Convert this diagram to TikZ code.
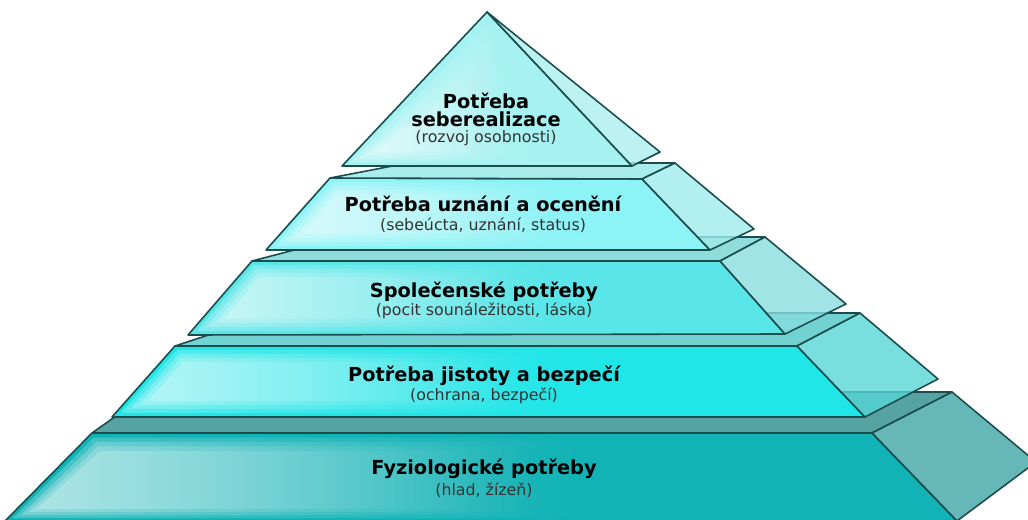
\documentclass[tikz,border=0pt]{standalone}
\usepackage{fontspec}
\setmainfont{DejaVu Sans}
\usetikzlibrary{calc,fadings}
\definecolor{edgecol}{HTML}{1B4D4D}
\definecolor{subgray}{HTML}{333333}
\definecolor{tfront}{HTML}{A6F2F2}
\definecolor{tside}{HTML}{ACEFEF}
\definecolor{utop}{HTML}{A8ECEC}
\definecolor{ufront}{HTML}{8CF3F6}
\definecolor{uside}{HTML}{9FEBEC}
\definecolor{stop}{HTML}{8FDCDC}
\definecolor{sfront}{HTML}{5AE6E8}
\definecolor{sside}{HTML}{88DDE0}
\definecolor{jtop}{HTML}{72D2D2}
\definecolor{jfront}{HTML}{20E6E8}
\definecolor{jside}{HTML}{56D6D6}
\definecolor{ftop}{HTML}{56A3A3}
\definecolor{ffront}{HTML}{12B3B6}
\definecolor{fside}{HTML}{40A6A6}
\begin{document}
\begin{tikzpicture}[x=0.02cm, y=-0.02cm, line join=round,
  face/.style={draw=edgecol, line width=0.9pt},
  sideface/.style={face, fill opacity=0.8},
  glow/.style={fill=white, path fading=east, fill opacity=0.24},
  title/.style={font=\bfseries\fontsize{11}{13}\selectfont, anchor=base, inner sep=0pt},
  subtitle/.style={font=\fontsize{9}{11}\selectfont, text=subgray, anchor=base, inner sep=0pt}]

	\useasboundingbox (0,0) rectangle (1028,520);
	\clip (0,0) rectangle (1028,520);

	% Fyziologicke potreby
	\coordinate (fTL) at (92,433);
	\coordinate (fTR) at (872,433);
	\coordinate (fBR) at (957,521);
	\coordinate (fBL) at (5,521);
	\coordinate (fBack) at (952,392);
	\coordinate (fBackB) at (1036,462);
	\coordinate (fBackL) at (150,392);

	\draw[face, fill=ffront] (fTL) -- (fTR) -- (fBR) -- (fBL) -- cycle;
	\foreach \k in {1,...,4}
		\fill[glow] ($(fTL)+(2*\k,4.5*\k)$) -- ($(fTL)!{0.64-0.03*\k}!(fTR)+(0,4.5*\k)$) -- ($(fBL)!{0.64-0.03*\k}!(fBR)+(0,-3*\k)$) -- ($(fBL)+(8*\k,-3*\k)$) -- cycle;
	\draw[face, fill=ftop] (fTL) -- (fTR) -- (fBack) -- (fBackL) -- cycle;
	\draw[sideface, fill=fside] (fTR) -- (fBack) -- (fBackB) -- (fBR) -- cycle;

	% Potreba jistoty a bezpeci
	\coordinate (jTL) at (175,346);
	\coordinate (jTR) at (797,346);
	\coordinate (jBR) at (865,417);
	\coordinate (jBL) at (112,417);
	\coordinate (jBack) at (860,313);
	\coordinate (jBackB) at (938,379);
	\coordinate (jBackL) at (275,313);

	\draw[face, fill=jfront] (jTL) -- (jTR) -- (jBR) -- (jBL) -- cycle;
	\foreach \k in {1,...,4}
		\fill[glow] ($(jTL)+(2*\k,4*\k)$) -- ($(jTL)!{0.64-0.03*\k}!(jTR)+(0,4*\k)$) -- ($(jBL)!{0.64-0.03*\k}!(jBR)+(0,-4*\k)$) -- ($(jBL)+(9*\k,-4*\k)$) -- cycle;
	\draw[face, fill=jtop] (jTL) -- (jTR) -- (jBack) -- (jBackL) -- cycle;
	\draw[sideface, fill=jside] (jTR) -- (jBack) -- (jBackB) -- (jBR) -- cycle;

	% Spolecenske potreby
	\coordinate (sTL) at (252,261);
	\coordinate (sTR) at (720,261);
	\coordinate (sBR) at (785,334);
	\coordinate (sBL) at (188,335);
	\coordinate (sBack) at (765,237);
	\coordinate (sBackB) at (846,304);
	\coordinate (sBackL) at (344,237);

	\draw[face, fill=sfront] (sTL) -- (sTR) -- (sBR) -- (sBL) -- cycle;
	\foreach \k in {1,...,4}
		\fill[glow] ($(sTL)+(2*\k,4*\k)$) -- ($(sTL)!{0.64-0.03*\k}!(sTR)+(0,4*\k)$) -- ($(sBL)!{0.64-0.03*\k}!(sBR)+(0,-4*\k)$) -- ($(sBL)+(9*\k,-4*\k)$) -- cycle;
	\draw[face, fill=stop] (sTL) -- (sTR) -- (sBack) -- (sBackL) -- cycle;
	\draw[sideface, fill=sside] (sTR) -- (sBack) -- (sBackB) -- (sBR) -- cycle;

	% Potreba uznani a oceneni
	\coordinate (uTL) at (330,178);
	\coordinate (uTR) at (642,179);
	\coordinate (uBR) at (710,250);
	\coordinate (uBL) at (266,250);
	\coordinate (uBack) at (675,163);
	\coordinate (uBackB) at (754,229);
	\coordinate (uBackL) at (408,163);

	\draw[face, fill=ufront] (uTL) -- (uTR) -- (uBR) -- (uBL) -- cycle;
	\foreach \k in {1,...,4}
		\fill[glow] ($(uTL)+(2*\k,4*\k)$) -- ($(uTL)!{0.74-0.03*\k}!(uTR)+(0,4*\k)$) -- ($(uBL)!{0.74-0.03*\k}!(uBR)+(0,-4*\k)$) -- ($(uBL)+(9*\k,-4*\k)$) -- cycle;
	\draw[face, fill=utop] (uTL) -- (uTR) -- (uBack) -- (uBackL) -- cycle;
	\draw[sideface, fill=uside] (uTR) -- (uBack) -- (uBackB) -- (uBR) -- cycle;

	% Potreba seberealizace
	\coordinate (tA) at (487,12);
	\coordinate (tL) at (342,166);
	\coordinate (tR) at (632,166);
	\coordinate (tBack) at (660,152);

	\draw[face, fill=tfront] (tA) -- (tR) -- (tL) -- cycle;
	\foreach \k in {1,...,4}
		\fill[glow] ($(tA)+(0,14*\k)$) -- ($(tL)!{0.7-0.04*\k}!(tR)+(0,-3.5*\k)$) -- ($(tL)+(8*\k,-3.5*\k)$) -- cycle;
	\draw[sideface, fill=tside] (tA) -- (tBack) -- (tR) -- cycle;

	% labels
	\node[title] (tTitle) at (486,109) {Potřeba};
	\node[title] (tTitleB) at (486,127) {seberealizace};
	\node[subtitle] (tSub) at (486,143) {(rozvoj osobnosti)};
	\node[title] (uTitle) at (483,212) {Potřeba uznání a ocenění};
	\node[subtitle] (uSub) at (483,231) {(sebeúcta, uznání, status)};
	\node[title] (sTitle) at (484,297) {Společenské potřeby};
	\node[subtitle] (sSub) at (484,316) {(pocit sounáležitosti, láska)};
	\node[title] (jTitle) at (484,381) {Potřeba jistoty a bezpečí};
	\node[subtitle] (jSub) at (484,400) {(ochrana, bezpečí)};
	\node[title] (fTitle) at (484,474) {Fyziologické potřeby};
	\node[subtitle] (fSub) at (484,495) {(hlad, žízeň)};

\end{tikzpicture}
\end{document}
